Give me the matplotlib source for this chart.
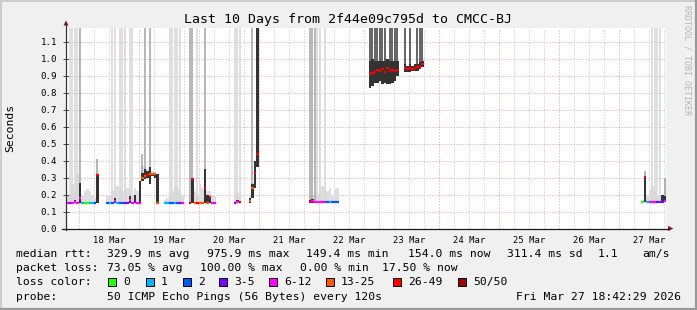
import numpy as np
import matplotlib
matplotlib.use("Agg")
import matplotlib.pyplot as plt
import matplotlib.dates as mdates
from matplotlib.patches import Rectangle, Polygon
from matplotlib.lines import Line2D
from datetime import datetime, timedelta

# ---------------- data ----------------
START = datetime(2026, 3, 17, 18, 42, 29)
END = datetime(2026, 3, 27, 18, 42, 29)

# sample start, hours after START (1-hour consolidated samples)
hours = [0, 1, 2, 3, 4, 5, 6, 7, 8, 9, 10, 11, 12,
         16, 17, 18, 19, 20, 21, 22, 23, 24, 25, 26, 27, 28, 29, 30, 31, 32, 33, 34, 35, 36,
         39, 40, 41, 42, 43, 44, 45, 46,
         49, 50, 51, 52, 53, 54, 55, 56, 57, 58, 59,
         67, 68, 69,
         73, 74, 75, 76,
         97, 98, 99, 100, 101, 102, 103, 104, 105, 106, 107, 108,
         121, 122, 123, 124, 125, 126, 127, 128, 129, 130, 131, 132,
         135, 136, 137, 138, 139, 140, 141, 142,
         230, 231, 232, 233, 234, 235, 236, 237, 238, 239]

# median rtt (seconds)
median = [0.150, 0.150, 0.150, 0.155, 0.150, 0.180, 0.150, 0.150, 0.150, 0.150, 0.150, 0.150, 0.315,
          0.150, 0.150, 0.150, 0.165, 0.150, 0.150, 0.150, 0.150, 0.150, 0.170, 0.150, 0.155, 0.150, 0.150,
          0.295, 0.310, 0.315, 0.320, 0.320, 0.320, 0.150,
          0.150, 0.150, 0.150, 0.150, 0.150, 0.150, 0.150, 0.150,
          0.150, 0.290, 0.150, 0.150, 0.150, 0.150, 0.240, 0.150, 0.185, 0.150, 0.150,
          0.150, 0.155, 0.155,
          0.160, 0.240, 0.330, 0.440,
          0.155, 0.165, 0.155, 0.155, 0.155, 0.155, 0.155, 0.155, 0.155, 0.155, 0.155, 0.155,
          0.910, 0.915, 0.925, 0.935, 0.930, 0.940, 0.925, 0.945, 0.930, 0.935, 0.930, 0.935,
          0.945, 0.940, 0.945, 0.940, 0.945, 0.950, 0.955, 0.970,
          0.155, 0.305, 0.155, 0.155, 0.155, 0.155, 0.155, 0.155, 0.155, 0.165]

# lost pings out of 50
lost = [8, 4, 8, 8, 8, 8, 1, 0, 0, 1, 1, 2, 35,
        2, 1, 2, 8, 1, 2, 2, 4, 4, 8, 8, 4, 8, 8, 18, 18, 35, 18, 18, 18, 18,
        1, 1, 2, 2, 1, 2, 4, 8,
        35, 35, 18, 35, 18, 18, 35, 18, 35, 8, 8,
        4, 8, 35,
        18, 18, 35, 35,
        35, 8, 8, 8, 8, 8, 8, 2, 1, 2, 2, 2,
        35, 35, 35, 35, 35, 35, 35, 35, 35, 35, 35, 35,
        35, 35, 35, 35, 35, 35, 35, 35,
        0, 35, 1, 8, 8, 8, 4, 2, 4, 8]

# upper edge of the light smoke (0 = none)
smoke_hi = [0.20, 0.19, 0.26, 0.22, 0.33, 0.20, 0.19, 0.22, 0.23, 0.22, 0.20, 0.18, 0.33,
            0.19, 0.20, 0.22, 0.25, 0.25, 0.24, 0.22, 0.26, 0.24, 0.22, 0.20, 0.24, 0.22, 0.20,
            0.37, 0.36, 0.35, 0.36, 0.34, 0.34, 0.20,
            0.17, 0.18, 0.20, 0.22, 0.25, 0.24, 0.22, 0.20,
            0.20, 0.22, 0.22, 0.20, 0.26, 0.24, 0.26, 0.22, 0.22, 0.20, 0.19,
            0.20, 0.21, 0.20,
            0.19, 0.27, 0.36, 0.45,
            0.18, 0.19, 0.20, 0.20, 0.22, 0.25, 0.24, 0.22, 0.24, 0.20, 0.23, 0.24,
            0, 0, 0, 0, 0, 0, 0, 0, 0, 0, 0, 0,
            0, 0, 0, 0, 0, 0, 0, 0,
            0.17, 0.20, 0.20, 0.23, 0.25, 0.22, 0.20, 0.20, 0.20, 0.30]

# dense (dark) smoke core (0 = none)
core_lo = [0, 0, 0, 0.15, 0, 0.15, 0, 0, 0, 0, 0, 0, 0.15,
           0, 0, 0, 0.15, 0, 0, 0, 0, 0, 0.15, 0, 0.15, 0, 0.15,
           0.28, 0.29, 0.30, 0.26, 0.31, 0.30, 0.15,
           0, 0, 0, 0, 0, 0, 0, 0,
           0, 0.15, 0, 0, 0, 0, 0.15, 0.15, 0.15, 0, 0,
           0, 0.15, 0,
           0.15, 0.18, 0.24, 0.36,
           0.15, 0.15, 0, 0, 0, 0, 0, 0, 0, 0, 0, 0,
           0.83, 0.84, 0.86, 0.86, 0.87, 0.85, 0.86, 0.85, 0.85, 0.86, 0.87, 0.90,
           0.92, 0.92, 0.92, 0.93, 0.93, 0.93, 0.94, 0.95,
           0, 0.155, 0, 0, 0, 0, 0, 0, 0.155, 0.155]
core_hi = [0, 0, 0, 0.17, 0, 0.27, 0, 0, 0, 0, 0, 0, 0.32,
           0, 0, 0, 0.18, 0, 0, 0, 0, 0, 0.19, 0, 0.20, 0, 0.28,
           0.33, 0.35, 0.34, 0.36, 0.33, 0.33, 0.32,
           0, 0, 0, 0, 0, 0, 0, 0,
           0, 0.30, 0, 0, 0, 0, 0.35, 0.20, 0.19, 0, 0,
           0, 0.17, 0,
           0.18, 0.26, 0.40, 1.30,
           0.17, 0.175, 0, 0, 0, 0, 0, 0, 0, 0, 0, 0,
           0.99, 1.00, 0.99, 0.99, 0.99, 0.99, 0.99, 1.00, 0.99, 0.99, 0.99, 0.99,
           0.97, 0.96, 0.97, 0.96, 0.97, 0.97, 0.98, 0.99,
           0, 0.31, 0, 0, 0, 0, 0, 0, 0.20, 0.19]

# single outlier pings drawn as thin smoke strands (0 = none) and their shade level
spike_hi = [0, 1.3, 1.3, 1.3, 1.3, 1.3, 0, 0, 0, 0, 0, 0, 0.41,
            0, 0, 1.3, 1.3, 0, 1.3, 1.3, 1.3, 0, 1.3, 1.3, 0, 0, 0,
            0.44, 1.3, 0, 1.3, 0, 0, 0,
            0, 0, 1.3, 1.3, 1.3, 1.3, 1.3, 0,
            1.3, 1.3, 0, 1.3, 0, 0, 1.3, 0, 0, 0, 0,
            1.3, 1.3, 1.3,
            0, 1.3, 0, 0,
            1.3, 1.3, 1.3, 1.3, 1.3, 0, 1.3, 0, 0, 0, 0, 0,
            1.3, 1.3, 1.3, 1.3, 1.3, 1.3, 1.3, 0, 1.3, 1.3, 1.3, 1.3,
            1.3, 0, 1.3, 0, 0, 1.3, 1.3, 1.3,
            0, 0.34, 0, 0, 1.3, 1.3, 1.3, 1.3, 0, 0.30]
spike_shade = [0, 1, 1, 1, 1, 2, 0, 0, 0, 0, 0, 0, 2,
               0, 0, 1, 1, 0, 1, 1, 1, 0, 1, 1, 0, 0, 0,
               2, 2, 0, 2, 0, 0, 0,
               0, 0, 1, 1, 1, 1, 1, 0,
               2, 2, 0, 1, 0, 0, 2, 0, 0, 0, 0,
               1, 1, 1,
               0, 2, 0, 0,
               2, 2, 2, 1, 1, 0, 1, 0, 0, 0, 0, 0,
               3, 3, 3, 3, 3, 3, 3, 0, 3, 3, 3, 3,
               3, 0, 3, 0, 0, 3, 3, 3,
               0, 2, 0, 0, 1, 1, 1, 1, 0, 2]

loss_labels = ["0", "1", "2", "3-5", "6-12", "13-25", "26-49", "50/50"]
loss_upper = [0, 1, 2, 5, 12, 25, 49, 50]
loss_colors = ["#26ff00", "#00b8ff", "#0059ff", "#7e00ff", "#ff00ff", "#ff5500", "#ff0000", "#a10000"]

rtt_stats = ["329.9 ms avg", "975.9 ms max", "149.4 ms min", "154.0 ms now", "311.4 ms sd", "1.1", "am/s"]
loss_stats = ["73.05 % avg", "100.00 % max", "0.00 % min", "17.50 % now"]
probe_text = "50 ICMP Echo Pings (56 Bytes) every 120s"
stamp_text = "Fri Mar 27 18:42:29 2026"
title_text = "Last 10 Days from 2f44e09c795d to CMCC-BJ"

# ---------------- figure ----------------
W, H = 697, 310
MONO = "DejaVu Sans Mono"
plt.rcParams["font.family"] = [MONO, "DejaVu Sans"]

fig = plt.figure(figsize=(W / 100, H / 100), dpi=100, facecolor="#f0f0f0")

def fx(px):
    return px / W

def fy(py):
    return 1 - py / H

ax_l, ax_r, ax_t, ax_b = 66.1, 666.1, 28.0, 228.5
ax = fig.add_axes([fx(ax_l), fy(ax_b), (ax_r - ax_l) / W, (ax_b - ax_t) / H])
ax.set_facecolor("white")
for s in ax.spines.values():
    s.set_visible(False)

t0 = mdates.date2num(START)
t1 = mdates.date2num(END)
ax.set_xlim(t0, t1)
ax.set_ylim(0, 1.182)

# grid
grid_red = "#d89c9c"
grid_gray = "#c0c0c0"
g = datetime(2026, 3, 18, 0, 0)
while g < END:
    major = g.hour == 0
    ax.axvline(mdates.date2num(g), color=grid_red if major else grid_gray,
               lw=0.72, ls=(0, (1, 2)), zorder=0.5)
    g += timedelta(hours=6)
for v in np.arange(0.1, 1.15, 0.1):
    ax.axhline(v, color=grid_red, lw=0.72, ls=(0, (1, 2)), zorder=0.5)

# data
hrs = np.array(hours, dtype=float)
med = np.array(median)
lo_s = np.array(smoke_hi)
clo = np.array(core_lo)
chi = np.array(core_hi)
shi = np.array(spike_hi)
ssh = np.array(spike_shade)
xs = t0 + hrs / 24.0
w = 1 / 24.0

def loss_color(n):
    for ub, c in zip(loss_upper, loss_colors):
        if n <= ub:
            return c
    return loss_colors[-1]

# light smoke
m = lo_s > med
ax.bar(xs[m], lo_s[m] - (med[m] - 0.004), bottom=med[m] - 0.004, width=w, align="edge",
       color="#dedede", lw=0, zorder=1)
# strands
shade_col = {1: "#d6d6d6", 2: "#a3a3a3", 3: "#3a3a3a"}
for lvl in (1, 2, 3):
    mm = (ssh == lvl) & (shi > 0)
    ax.vlines(xs[mm] + w / 2, med[mm], shi[mm], colors=shade_col[lvl],
              lw=1.1, zorder=1.5 + lvl * 0.1)
# core
mc = chi > 0
ax.bar(xs[mc], chi[mc] - clo[mc], bottom=clo[mc], width=w, align="edge",
       color="#333333", lw=0, zorder=2)
# median coloured by loss
cols = [loss_color(n) for n in lost]
ax.hlines(med, xs, xs + w, colors=cols, lw=1.6, zorder=3)

# ticks
yt = np.round(np.arange(0, 1.15, 0.1), 1)
ax.set_yticks(yt)
ax.set_yticklabels([f"{v:.1f}" for v in yt], family=MONO, fontsize=6.6)
ax.tick_params(axis="y", direction="inout", length=4, width=0.7, color="#444444", pad=4.5)
noon = []
d = datetime(2026, 3, 18, 12, 0)
while d < END:
    noon.append(d)
    d += timedelta(days=1)
ax.set_xticks([mdates.date2num(n) for n in noon])
ax.set_xticklabels([n.strftime("%d Mar") for n in noon], family=MONO, fontsize=6.4)
ax.tick_params(axis="x", length=0, pad=5.5)

# axes lines and arrows
axis_col = "#1a1a1a"
arrow_col = "#8b1a1a"
fig.add_artist(Line2D([fx(ax_l - 0.2), fx(ax_l - 0.2)], [fy(ax_b + 1.5), fy(24)],
                      transform=fig.transFigure, color="#333333", lw=0.9))
fig.add_artist(Line2D([fx(62), fx(669)], [fy(ax_b), fy(ax_b)],
                      transform=fig.transFigure, color=axis_col, lw=0.9))
fig.add_artist(Polygon([[fx(ax_l - 2.6), fy(25.5)], [fx(ax_l + 2.4), fy(25.5)], [fx(ax_l - 0.1), fy(20.5)]],
                       closed=True, transform=fig.transFigure, color=arrow_col, lw=0))
fig.add_artist(Polygon([[fx(668), fy(ax_b - 2.6)], [fx(668), fy(ax_b + 2.6)], [fx(673.5), fy(ax_b)]],
                       closed=True, transform=fig.transFigure, color=arrow_col, lw=0))

# title and labels
fig.text(fx(347.5), fy(19.5), title_text, ha="center", va="center", fontsize=9.5, family=MONO)
fig.text(fx(10), fy(128), "Seconds", rotation=90, ha="center", va="center", fontsize=8.2, family=MONO)
fig.text(fx(687), fy(60), "RRDTOOL / TOBI OETIKER", rotation=-90, ha="center", va="center",
         fontsize=6.0, family=MONO, color="#b4b4b4")

# legend
LFS = 8.2
row_y = [254, 268, 282, 296.5]
fig.text(fx(16), fy(row_y[0]), "median rtt:", va="center", fontsize=LFS, family=MONO)
for s, x in zip(rtt_stats, [107, 207, 306, 408, 507, 598, 642]):
    fig.text(fx(x), fy(row_y[0]), s, va="center", fontsize=LFS, family=MONO)
fig.text(fx(16), fy(row_y[1]), "packet loss:", va="center", fontsize=LFS, family=MONO)
for s, x in zip(loss_stats, [107, 200, 300, 382]):
    fig.text(fx(x), fy(row_y[1]), s, va="center", fontsize=LFS, family=MONO)
fig.text(fx(16), fy(row_y[2]), "loss color:", va="center", fontsize=LFS, family=MONO)
for lab, c, bx in zip(loss_labels, loss_colors, [108, 146, 183, 219, 269, 326, 393, 458]):
    fig.add_artist(Rectangle((fx(bx), fy(row_y[2] + 4)), 7.5 / W, 8 / H, transform=fig.transFigure,
                             facecolor=c, edgecolor="black", lw=0.7))
    fig.text(fx(bx + 15), fy(row_y[2]), lab, va="center", fontsize=LFS, family=MONO)
fig.text(fx(16), fy(row_y[3]), "probe:", va="center", fontsize=LFS, family=MONO)
fig.text(fx(107), fy(row_y[3]), probe_text, va="center", fontsize=LFS, family=MONO)
fig.text(fx(681), fy(row_y[3]), stamp_text, va="center", ha="right", fontsize=LFS, family=MONO)

# 3D frame
fig.add_artist(Line2D([0, 1], [fy(0.7), fy(0.7)], transform=fig.transFigure, color="#cbcbcb", lw=1.4))
fig.add_artist(Line2D([fx(0.7), fx(0.7)], [0, 1], transform=fig.transFigure, color="#cbcbcb", lw=1.4))
fig.add_artist(Line2D([0, 1], [fy(H - 1), fy(H - 1)], transform=fig.transFigure, color="#999999", lw=1.6))
fig.add_artist(Line2D([fx(W - 1), fx(W - 1)], [0, 1], transform=fig.transFigure, color="#999999", lw=1.6))

fig.savefig("out.png", dpi=100, facecolor=fig.get_facecolor())
